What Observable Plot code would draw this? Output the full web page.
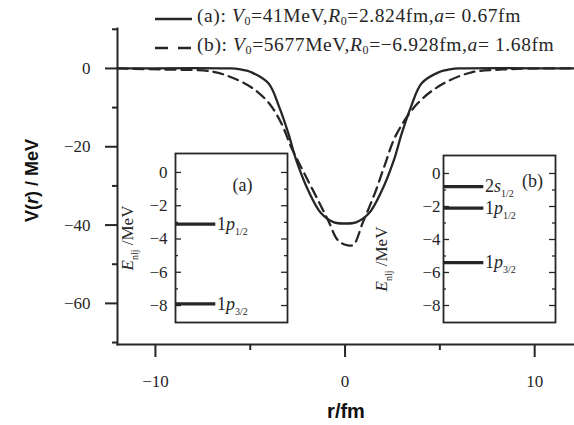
<!DOCTYPE html>
<html><head><meta charset="utf-8">
<script src="https://cdn.jsdelivr.net/npm/d3@7"></script>
<script src="https://cdn.jsdelivr.net/npm/@observablehq/plot@0.6"></script>
<style>
body{margin:0;background:#fff}
#wrap{position:relative;width:574px;height:425px;overflow:hidden;background:#fff}
#wrap svg{position:absolute}
.legend{position:absolute;font-family:"Liberation Serif",serif;font-size:19.5px;letter-spacing:0.6px;color:#262626;white-space:nowrap}
</style></head><body><div id="wrap"></div>
<script>
// ---- Main potential curves ----
const solidR = [-12, -6, -5.6, -4.93, -4.04, -3.46, -2.99, -2.57, -1.94, -1.26, -0.58, 0, 0.58, 1.26, 1.94, 2.57, 2.99, 3.46, 4.04, 4.93, 5.6, 6, 12.1];
const solidV = [0, 0, -0.2, -1.0, -3.8, -10.0, -16.6, -23.5, -31.2, -37.0, -39.3, -39.6, -39.3, -37.0, -31.2, -23.5, -16.6, -10.0, -3.8, -1.0, -0.2, 0, 0];
const dashR = [-12, -9.66, -7.03, -5.98, -4.93, -4.04, -3.36, -2.83, -2.15, -1.42, -0.89, -0.37, 0.16, 0.45, 0.94, 1.57, 2.10, 2.68, 3.83, 5.14, 6.67, 8.29, 10.3, 12.1];
const dashV = [0, -0.26, -0.77, -2.3, -4.85, -8.7, -14.0, -20.2, -26.8, -33.7, -38.8, -43.9, -45.2, -45.0, -39.3, -31.9, -24.6, -17.1, -8.9, -4.0, -1.0, -0.26, 0, 0];

const xMajor = [-10, 0, 10];
const xMinor = [-5, 5];
const yMajor = [0, -20, -40, -60];
const yMinor = [10, -10, -30, -50, -70];

const legendLabels = [
  '(a): <i>V</i><sub>0</sub>=41MeV,<i>R</i><sub>0</sub>=2.824fm,<i>a</i>= 0.67fm',
  '(b): <i>V</i><sub>0</sub>=5677MeV,<i>R</i><sub>0</sub>=\u22126.928fm,<i>a</i>= 1.68fm'
];

// ---- Inset level schemes ----
const levelNamesA = ["1p1/2", "1p3/2"];
const levelEA = [-3.1, -7.9];
const levelNamesB = ["2s1/2", "1p1/2", "1p3/2"];
const levelEB = [-0.8, -2.1, -5.4];
const insetMajor = [0, -2, -4, -6, -8];
const insetMinor = [-1, -3, -5, -7];

const ink = "#262626";
const serif = "'Liberation Serif', 'Times New Roman', serif";
const sans = "'Liberation Sans', Arial, sans-serif";
const minusFmt = d => d < 0 ? "\u2212" + Math.abs(d) : String(d);

const wrap = document.getElementById("wrap");

const solid = solidR.map((r, i) => ({r, v: solidV[i]}));
const dashed = dashR.map((r, i) => ({r, v: dashV[i]}));

function serifTicks(svg) {
  svg.querySelectorAll('g[aria-label*="tick label"]').forEach(g => {
    g.setAttribute("font-family", serif);
    g.setAttribute("font-variant", "normal");
    g.setAttribute("font-size", "17");
    g.style.fontFamily = serif;
    g.querySelectorAll("text").forEach(t => {
      t.setAttribute("font-family", serif);
      t.style.fontFamily = serif;
      t.style.fontSize = "17px";
    });
  });
}

const main = Plot.plot({
  width: 574, height: 425,
  marginLeft: 117, marginRight: 0, marginTop: 28, marginBottom: 81,
  x: {domain: [-12, 12.1]},
  y: {domain: [-70.5, 10.2]},
  style: {fontFamily: serif, fontSize: "17px", color: ink, background: "transparent"},
  marks: [
    Plot.frame({anchor: "left", stroke: ink, strokeWidth: 2}),
    Plot.frame({anchor: "bottom", stroke: ink, strokeWidth: 2}),
    Plot.axisX({ticks: xMajor, tickSize: 13, tickPadding: 17, tickFormat: minusFmt, label: null, strokeWidth: 2}),
    Plot.axisX({ticks: xMinor, tickSize: 6, tickFormat: () => "", label: null, strokeWidth: 2}),
    Plot.axisY({ticks: yMajor, tickSize: 12, tickPadding: 15, tickFormat: minusFmt, label: null, strokeWidth: 2}),
    Plot.axisY({ticks: yMinor, tickSize: 5, tickFormat: () => "", label: null, strokeWidth: 2}),
    Plot.line(solid, {x: "r", y: "v", curve: "catmull-rom", stroke: ink, strokeWidth: 2.3}),
    Plot.line(dashed, {x: "r", y: "v", curve: "catmull-rom", stroke: ink, strokeWidth: 2.3, strokeDasharray: "10,6"}),
    Plot.text(["r/fm"], {frameAnchor: "bottom", dy: 73, textAnchor: "middle", fontFamily: sans, fontWeight: "bold", fontSize: 20, fill: "#111"}),
    Plot.text(["V(r) / MeV"], {frameAnchor: "left", dx: -85, dy: -6, textAnchor: "middle", rotate: -90, fontFamily: sans, fontWeight: "bold", fontSize: 18, fill: "#111"})
  ]
});
main.style.left = "0px"; main.style.top = "0px";
wrap.appendChild(main);
serifTicks(main);
main.querySelectorAll("text").forEach(t => {
  if (t.textContent === "V(r) / MeV") t.innerHTML = 'V(<tspan font-style="italic">r</tspan>) / MeV';
});

function levelHTML(name) {
  const n = name[0], l = name[1], j = name.slice(2);
  return `${n}<tspan font-style="italic">${l}</tspan><tspan font-size="10" dy="5">${j}</tspan>`;
}

function inset({names, energies, tag, left, top, mLeft, boxH, yDomain, pad, tagDx, tagDy, eDx, eDy}) {
  const W = 112;
  const levels = names.map((name, i) => ({name, e: energies[i]}));
  const p = Plot.plot({
    width: mLeft + W + 2, height: boxH + 6,
    marginLeft: mLeft, marginRight: 2, marginTop: 3, marginBottom: 3,
    x: {domain: [0, 1], axis: null},
    y: {domain: yDomain, axis: null},
    style: {fontFamily: serif, fontSize: "16px", color: ink, background: "transparent", overflow: "visible"},
    marks: [
      Plot.frame({fill: "white", stroke: ink, strokeWidth: 1.8}),
      Plot.tickY(insetMajor, {y: d => d, insetRight: W - 6, stroke: ink, strokeWidth: 1.3}),
      Plot.tickY(insetMajor, {y: d => d, insetLeft: W - 6, stroke: ink, strokeWidth: 1.3}),
      Plot.tickY(insetMinor, {y: d => d, insetRight: W - 3, stroke: ink, strokeWidth: 1.3}),
      Plot.tickY(insetMinor, {y: d => d, insetLeft: W - 3, stroke: ink, strokeWidth: 1.3}),
      Plot.axisY({ticks: insetMajor, tickSize: 0, tickPadding: pad, tickFormat: minusFmt, label: null}),
      Plot.ruleY(levels, {y: "e", x1: 0, x2: 0.36, stroke: ink, strokeWidth: 3.2}),
      Plot.text(levels, {x: 0.37, y: "e", text: "name", textAnchor: "start", fontFamily: serif, fontSize: 18, fill: ink}),
      Plot.text([tag], {frameAnchor: "top-left", dx: tagDx, dy: tagDy, textAnchor: "middle", fontFamily: serif, fontSize: 18, fill: ink}),
      Plot.text(["ENLJ"], {frameAnchor: "left", dx: eDx, dy: eDy, textAnchor: "middle", rotate: -90, fontFamily: serif, fontSize: 17, fill: ink})
    ]
  });
  p.style.left = left + "px"; p.style.top = top + "px";
  wrap.appendChild(p);
  serifTicks(p);
  p.querySelectorAll("text").forEach(t => {
    const s = t.textContent;
    if (names.includes(s)) t.innerHTML = levelHTML(s);
    if (s === "ENLJ") t.innerHTML = '<tspan font-style="italic">E</tspan><tspan font-size="10" dy="5">nlj</tspan><tspan dy="-5"> /MeV</tspan>';
  });
}

inset({names: levelNamesA, energies: levelEA, tag: "(a)", left: 100, top: 150, mLeft: 75, boxH: 169,
       yDomain: [-9.02, 1.14], pad: 8, tagDx: 67, tagDy: 25, eDx: -48, eDy: 0});
inset({names: levelNamesB, energies: levelEB, tag: "(b)", left: 370, top: 152, mLeft: 73, boxH: 167,
       yDomain: [-9.03, 1.09], pad: 3, tagDx: 89, tagDy: 19, eDx: -62, eDy: 20});

// ---- Legend ----
const NS = "http://www.w3.org/2000/svg";
const sw = document.createElementNS(NS, "svg");
sw.setAttribute("width", 574); sw.setAttribute("height", 60);
sw.style.left = "0px"; sw.style.top = "0px";
[[19, null], [48, "13,10"]].forEach(([y, dash]) => {
  const l = document.createElementNS(NS, "line");
  l.setAttribute("x1", 155); l.setAttribute("x2", 192);
  l.setAttribute("y1", y); l.setAttribute("y2", y);
  l.setAttribute("stroke", ink); l.setAttribute("stroke-width", 2.3);
  if (dash) l.setAttribute("stroke-dasharray", dash);
  sw.appendChild(l);
});
wrap.appendChild(sw);
legendLabels.forEach((html, i) => {
  const d = document.createElement("div");
  d.className = "legend";
  d.style.left = "197px";
  d.style.top = (i === 0 ? 5 : 34) + "px";
  d.innerHTML = html.replace(/<sub>/g, '<sub style="font-size:12px;vertical-align:-3px">');
  wrap.appendChild(d);
});
</script></body></html>
